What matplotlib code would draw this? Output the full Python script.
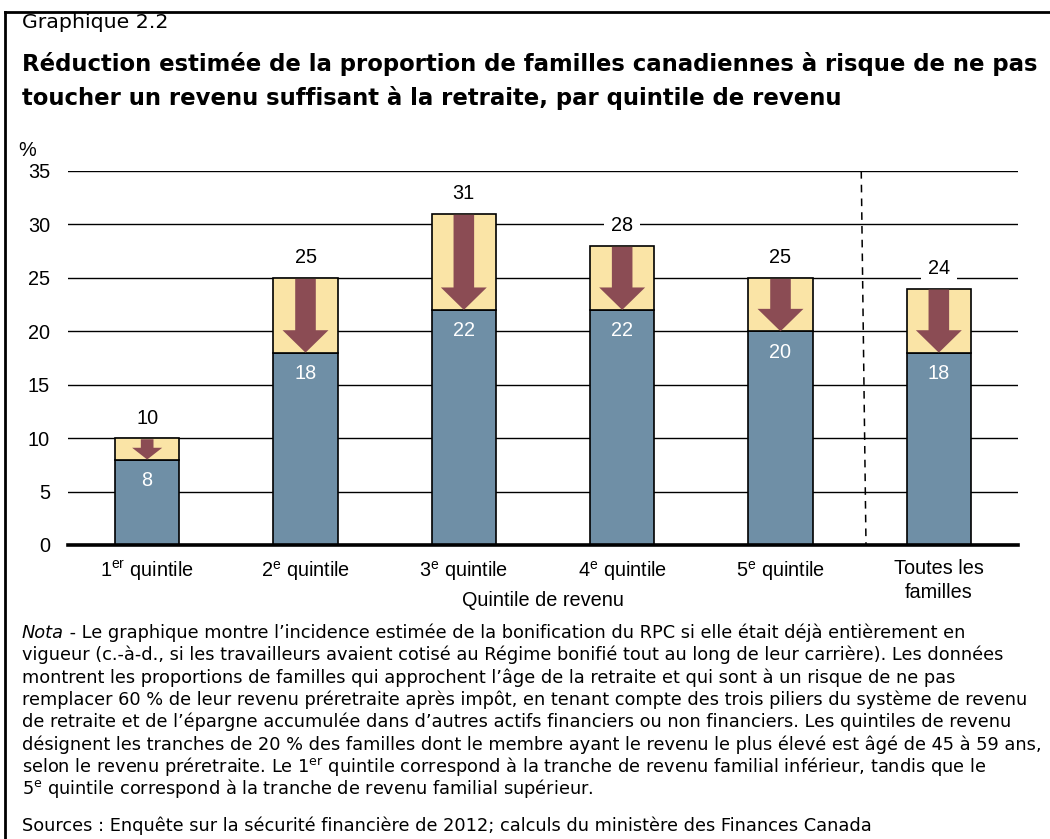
import matplotlib
matplotlib.use("Agg")
import matplotlib.pyplot as plt
from matplotlib.lines import Line2D
from matplotlib.patches import FancyArrow

# ---------------- data ----------------
categories = ["1$\\mathregular{^{er}}$ quintile", "2$\\mathregular{^{e}}$ quintile",
              "3$\\mathregular{^{e}}$ quintile", "4$\\mathregular{^{e}}$ quintile",
              "5$\\mathregular{^{e}}$ quintile", "Toutes les\nfamilles"]
before = [10, 25, 31, 28, 25, 24]      # current risk (%)
after = [8, 18, 22, 22, 20, 18]        # with enhanced CPP (%)
yticks = [0, 5, 10, 15, 20, 25, 30, 35]

title_small = "Graphique 2.2"
title_lines = ["Réduction estimée de la proportion de familles canadiennes à risque de ne pas",
               "toucher un revenu suffisant à la retraite, par quintile de revenu"]
note_lines = [
    "vigueur (c.-à-d., si les travailleurs avaient cotisé au Régime bonifié tout au long de leur carrière). Les données",
    "montrent les proportions de familles qui approchent l\u2019âge de la retraite et qui sont à un risque de ne pas",
    "remplacer 60 % de leur revenu préretraite après impôt, en tenant compte des trois piliers du système de revenu",
    "de retraite et de l\u2019épargne accumulée dans d\u2019autres actifs financiers ou non financiers. Les quintiles de revenu",
    "désignent les tranches de 20 % des familles dont le membre ayant le revenu le plus élevé est âgé de 45 à 59 ans,",
    "selon le revenu préretraite. Le 1$\\mathregular{^{er}}$ quintile correspond à la tranche de revenu familial inférieur, tandis que le",
    "5$\\mathregular{^{e}}$ quintile correspond à la tranche de revenu familial supérieur.",
]
note_first_italic = "Nota"
note_first_rest = " - Le graphique montre l\u2019incidence estimée de la bonification du RPC si elle était déjà entièrement en"
sources = "Sources : Enquête sur la sécurité financière de 2012; calculs du ministère des Finances Canada"

# ---------------- style ----------------
BLUE = "#6F8FA6"
YELLOW = "#FAE4A6"
ARROW = "#8B4C54"
CHART_FONT = "Liberation Sans"
NOTE_FONT = "DejaVu Sans"
CFS = 14.3

W, H = 1050, 839
fig = plt.figure(figsize=(W / 100, H / 100), dpi=100)
fig.patch.set_facecolor("white")
renderer = fig.canvas.get_renderer()

def fx(px):
    return px / W

def fy(py):
    return 1 - py / H

def fit(t, target_px):
    w = t.get_window_extent(renderer=renderer).width
    t.set_fontsize(t.get_fontsize() * target_px / w)
    return t.get_fontsize()

ax = fig.add_axes([fx(68), fy(545), fx(1018) - fx(68), fy(171) - fy(545)])
ax.set_xlim(-0.5, 5.5)
ax.set_ylim(0, 35)
for s in ["left", "right", "top"]:
    ax.spines[s].set_visible(False)
ax.spines["bottom"].set_linewidth(2.6)
ax.spines["bottom"].set_zorder(5)
ax.set_yticks(yticks)
ax.set_yticklabels([str(t) for t in yticks], fontsize=CFS, family=CHART_FONT)
ax.tick_params(axis="y", length=0, pad=13)
ax.tick_params(axis="x", length=0, pad=10)
ax.yaxis.grid(True, color="black", linewidth=1.0)
ax.set_axisbelow(True)

x = list(range(len(categories)))
ax.set_xticks(x)
ax.set_xticklabels(categories, fontsize=CFS, family=CHART_FONT, linespacing=1.35)
fig.text(fx(543), fy(600), "Quintile de revenu", fontsize=CFS, family=CHART_FONT,
         ha="center", va="center")

bw = 0.405
ax.bar(x, after, width=bw, color=BLUE, edgecolor="black", linewidth=1.2, zorder=2)
diff = [b - a for b, a in zip(before, after)]
ax.bar(x, diff, bottom=after, width=bw, color=YELLOW, edgecolor="black", linewidth=1.2, zorder=2)

for xi, b, a in zip(x, before, after):
    d = b - a
    hl = min(2.1, 0.55 * d)
    hw = 0.29 if d > 3 else 0.19
    sw = 0.13 if d > 3 else 0.08
    ax.add_patch(FancyArrow(xi, b - 0.1, 0, -(d - 0.1), width=sw, head_width=hw,
                            head_length=hl, length_includes_head=True,
                            color=ARROW, linewidth=0, zorder=3))
    ax.annotate(str(b), (xi, b), xytext=(0, 20), textcoords="offset pixels",
                ha="center", va="center", fontsize=CFS, family=CHART_FONT,
                bbox=dict(boxstyle="square,pad=0.35", fc="white", ec="none"), zorder=4)
    ax.annotate(str(a), (xi, a), xytext=(0, -21), textcoords="offset pixels",
                ha="center", va="center", fontsize=CFS, family=CHART_FONT,
                color="white", zorder=4)

ax.plot([4.51, 4.54], [35, 0], color="black", linestyle=(0, (5, 4)), linewidth=1.1, zorder=1,
        clip_on=False)

fig.text(fx(27), fy(150), "%", fontsize=CFS, family=CHART_FONT, ha="center", va="center")

# ---------------- frame lines ----------------
fig.add_artist(Line2D([fx(5), 1.0], [fy(12), fy(12)], color="black", linewidth=2))
fig.add_artist(Line2D([fx(5), fx(5)], [fy(12), 0.0], color="black", linewidth=2))

# ---------------- titles ----------------
t0 = fig.text(fx(22), fy(28), title_small, fontsize=13, family=NOTE_FONT,
              ha="left", va="baseline")
fit(t0, 146)
t1 = fig.text(fx(22), fy(71), title_lines[0], fontsize=16, family=NOTE_FONT, weight="bold",
              ha="left", va="baseline")
tfs = fit(t1, 1018)
fig.text(fx(22), fy(105), title_lines[1], fontsize=tfs, family=NOTE_FONT, weight="bold",
         ha="left", va="baseline")

# ---------------- note ----------------
probe = fig.text(0, 0, note_lines[4], fontsize=12, family=NOTE_FONT)
NFS = fit(probe, 1018)
probe.remove()

t_it = fig.text(fx(22), fy(638), note_first_italic, fontsize=NFS, family=NOTE_FONT,
                style="italic", ha="left", va="baseline")
bb = t_it.get_window_extent(renderer=renderer)
fig.text(bb.x1 / W, fy(638), note_first_rest, fontsize=NFS, family=NOTE_FONT,
         ha="left", va="baseline")
ys = [660, 683, 705, 727, 750, 772, 794]
for yy, line in zip(ys, note_lines):
    fig.text(fx(22), fy(yy), line, fontsize=NFS, family=NOTE_FONT, ha="left", va="baseline")
fig.text(fx(22), fy(831), sources, fontsize=NFS, family=NOTE_FONT, ha="left", va="baseline")

fig.savefig("out.png", dpi=100)
